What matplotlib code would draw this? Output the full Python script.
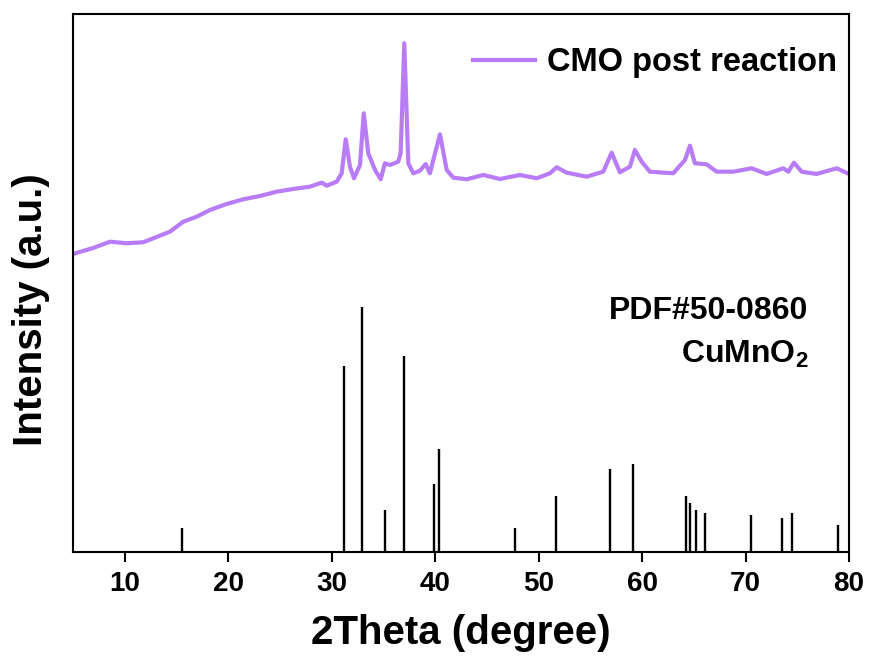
import matplotlib
matplotlib.use('Agg')
import matplotlib.pyplot as plt
from matplotlib.ticker import MultipleLocator

plt.rcParams['font.family'] = ['Liberation Sans', 'DejaVu Sans']
plt.rcParams['font.weight'] = 'bold'
plt.rcParams['mathtext.fontset'] = 'custom'
plt.rcParams['mathtext.rm'] = 'Liberation Sans:bold'
plt.rcParams['mathtext.it'] = 'Liberation Sans:bold'
plt.rcParams['mathtext.bf'] = 'Liberation Sans:bold'

two_theta = [5.0, 6.96, 8.58, 10.19, 11.79, 12.76, 14.37, 15.66, 16.96, 18.24,
             19.85, 21.46, 23.07, 24.69, 26.29, 27.9, 29.04, 29.52, 30.49, 30.97,
             31.36, 31.77, 32.16, 32.74, 33.1, 33.54, 34.19, 34.74, 35.15, 35.64,
             36.44, 36.67, 37.02, 37.41, 37.89, 38.54, 39.09, 39.5, 39.99, 40.47,
             41.12, 41.76, 43.05, 44.65, 46.27, 48.2, 49.82, 51.1, 51.75, 52.71,
             54.65, 56.25, 57.06, 57.86, 58.83, 59.31, 59.96, 60.76, 63.02, 64.15,
             64.63, 65.11, 66.24, 67.21, 68.82, 70.59, 72.04, 73.65, 74.13, 74.68,
             75.43, 76.86, 78.81, 80.0]
intensity = [29, 35, 41.3, 39.7, 40.7, 44.7, 51.3, 61.3, 66.3, 73,
             79, 83.7, 87, 91.3, 94, 96.3, 100.3, 97.3, 101.3, 109.7,
             143.7, 116.3, 104.7, 118, 169.7, 129.7, 113, 103.7, 119.7, 118,
             121.3, 130, 239.7, 119.7, 109.7, 112.3, 119, 109.7, 129.7, 148.7,
             113, 105.3, 103.7, 108, 104, 108, 104.7, 109.7, 115.7, 110.3,
             106.3, 111.3, 130.3, 110.7, 116.3, 133, 121.3, 111.3, 109.7, 123,
             137.3, 119.7, 118.7, 111.3, 111.3, 114.7, 109, 114.7, 111.3, 120.3,
             111.3, 109, 114.7, 109]

# reference card PDF#50-0860 (relative intensity)
ref_pos = [15.5, 31.2, 32.95, 35.2, 36.95, 39.9, 40.36, 47.7, 51.7, 56.95,
           59.08, 64.2, 64.6, 65.26, 66.1, 70.57, 73.5, 74.5, 78.9]
ref_int = [9.8, 76, 100, 17, 80, 28, 42, 10, 23, 34,
           36, 23, 20, 17, 16, 15, 14, 16, 11]

purple = '#B97CF7'

fig = plt.figure(figsize=(8.72, 6.57), dpi=100)
ax1 = fig.add_axes([0.0837, 0.5693, 0.8899, 0.4094])
ax2 = fig.add_axes([0.0837, 0.1598, 0.8899, 0.4095], sharex=ax1)

ax1.plot(two_theta, intensity, color=purple, lw=3, label='CMO post reaction')
ax1.set_ylim(0, 269)
ax1.set_yticks([])
ax1.spines['bottom'].set_visible(False)
ax1.tick_params(axis='x', which='both', bottom=False, labelbottom=False)
ax1.legend(loc='upper right', bbox_to_anchor=(1.022, 0.985), frameon=False,
           handlelength=1.9, handletextpad=0.35,
           prop={'weight': 'bold', 'size': 23.5})

ax2.vlines(ref_pos, 0, ref_int, color='k', lw=1.7)
ax2.set_ylim(0, 110)
ax2.set_yticks([])
ax2.spines['top'].set_visible(False)
ax2.set_xlim(5, 80)
ax2.xaxis.set_major_locator(MultipleLocator(10))
ax2.tick_params(axis='x', direction='out', length=7, width=1.5, labelsize=20, pad=7)
ax2.text(0.948, 0.895, 'PDF#50-0860', transform=ax2.transAxes, ha='right', va='center',
         fontsize=23, fontweight='bold')
ax2.text(0.948, 0.735, 'CuMnO$_2$', transform=ax2.transAxes, ha='right', va='center',
         fontsize=23, fontweight='bold')

for ax in (ax1, ax2):
    for s in ax.spines.values():
        s.set_linewidth(1.5)

ax2.set_xlabel('2Theta (degree)', fontsize=29, fontweight='bold', labelpad=12)
fig.text(0.036, 0.528, 'Intensity (a.u.)', rotation=90, ha='center', va='center',
         fontsize=29, fontweight='bold')

fig.savefig('out.png', dpi=100)
